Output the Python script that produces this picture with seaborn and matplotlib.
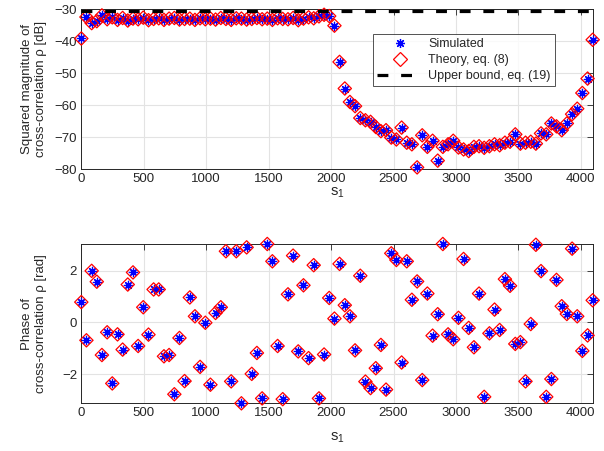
import numpy as np
import pandas as pd
import matplotlib
matplotlib.use("Agg")
import matplotlib.pyplot as plt
import seaborn as sns
from matplotlib.lines import Line2D

sns.set_style("white")
plt.rcParams['font.family'] = ['Liberation Sans', 'DejaVu Sans']
plt.rcParams['mathtext.fontset'] = 'custom'
plt.rcParams['mathtext.rm'] = 'Liberation Sans'
plt.rcParams['mathtext.it'] = 'Liberation Sans'

# ---------------- data ----------------
s1 = [0, 41, 83, 124, 165, 207, 248, 290, 331, 372, 414, 455, 496, 538, 579, 620, 662, 703, 745, 786,
      827, 869, 910, 951, 993, 1034, 1075, 1117, 1158, 1200, 1241, 1282, 1324, 1365, 1406, 1448, 1489, 1530, 1572, 1613,
      1655, 1696, 1737, 1779, 1820, 1861, 1903, 1944, 1985, 2027, 2068, 2110, 2151, 2192, 2234, 2275, 2316, 2358, 2399, 2440,
      2482, 2523, 2565, 2606, 2647, 2689, 2730, 2771, 2813, 2854, 2895, 2937, 2978, 3020, 3061, 3102, 3144, 3185, 3226, 3268,
      3309, 3350, 3392, 3433, 3475, 3516, 3557, 3599, 3640, 3681, 3723, 3764, 3805, 3847, 3888, 3930, 3971, 4012, 4054, 4095]

mag_db = [-39.2, -32.5, -34.4, -33.8, -32.0, -33.2, -32.6, -33.4, -32.8, -33.6,
          -33.0, -33.2, -32.7, -33.5, -33.1, -32.9, -33.4, -33.0, -32.8, -33.3,
          -33.1, -33.0, -33.4, -32.9, -33.2, -33.0, -33.3, -32.8, -33.1, -33.4,
          -32.9, -33.0, -33.3, -33.1, -32.8, -33.2, -33.0, -33.4, -32.9, -33.1,
          -33.2, -32.8, -33.5, -33.0, -32.6, -32.9, -32.3, -31.8, -32.2, -35.2,
          -46.5, -54.8, -59.0, -60.3, -64.0, -64.7, -65.2, -66.8, -68.1, -67.8,
          -70.1, -70.7, -67.0, -71.7, -72.2, -79.4, -69.4, -73.0, -71.1, -77.3,
          -73.0, -72.2, -71.1, -73.2, -73.8, -74.3, -73.0, -72.8, -73.3, -72.8,
          -72.2, -72.5, -71.7, -71.4, -69.1, -72.0, -71.7, -71.4, -72.0, -68.8,
          -69.1, -65.7, -66.6, -67.8, -65.7, -62.8, -61.1, -56.2, -51.7, -39.6]

phase_rad = [0.79, -0.69, 2.00, 1.58, -1.26, -0.38, -2.36, -0.46, -1.05, 1.47,
             1.94, -0.91, 0.59, -0.47, 1.28, 1.28, -1.31, -1.26, -2.78, -0.60,
             -2.27, 0.97, 0.24, -1.72, -0.01, -2.41, 0.37, 0.59, 2.76, -2.28,
             2.76, -3.13, 2.91, -1.99, -1.18, -2.94, 3.04, 2.37, -0.91, -2.97,
             1.09, 2.59, -1.12, 1.44, -1.38, 2.22, -2.94, -1.24, 0.95, 0.15,
             2.27, 0.67, 0.24, -1.08, 1.81, -2.29, -2.54, -1.77, -0.87, -2.60,
             2.68, 2.42, -1.55, 2.37, 0.88, 1.59, -2.23, 1.12, -0.51, 0.32,
             3.04, -0.46, -0.65, 0.18, 2.46, -0.21, -0.96, 1.12, -2.88, -0.42,
             0.50, -0.29, 1.68, 1.42, -0.83, -0.76, -2.28, -0.06, 3.01, 1.99,
             -2.88, -2.19, 1.65, 0.63, 0.33, 2.86, 0.24, -1.10, -0.50, 0.86]

upper_bound_db = -30.7
x_ticks = [0, 500, 1000, 1500, 2000, 2500, 3000, 3500, 4000]
top_yticks = [-80, -70, -60, -50, -40, -30]
bot_yticks = [-2, 0, 2]
labels = ["Simulated", "Theory, eq. (8)", "Upper bound, eq. (19)"]

df = pd.DataFrame({"s1": s1, "mag": mag_db, "phase": phase_rad})

# ---------------- figure ----------------
W, H = 604, 451
fig = plt.figure(figsize=(W / 100, H / 100), dpi=100)
left = 81.3 / W
width = 511.4 / W
ax1 = fig.add_axes([left, 1 - 169.3 / H, width, 160.3 / H])
ax2 = fig.add_axes([left, 1 - 403.3 / H, width, 159.3 / H])

edge = '#262626'
gridc = '#e3e3e3'
ast = (8, 2, 0)
dash = (0, (3.4, 4.0))

for ax, col in ((ax1, "mag"), (ax2, "phase")):
    sns.scatterplot(data=df, x="s1", y=col, marker=ast, color='blue', s=36,
                    linewidth=0.9, ax=ax, zorder=3, legend=False, clip_on=False)
    sns.scatterplot(data=df, x="s1", y=col, marker='D', s=46, color='red',
                    facecolors='none', edgecolor='red', linewidth=0.9, ax=ax,
                    zorder=4, legend=False, clip_on=False)

sns.lineplot(x=[s1[0], s1[-1]], y=[upper_bound_db, upper_bound_db], ax=ax1,
             color='black', linewidth=2.3, linestyle=dash, zorder=5)

ax1.set_ylim(-80, -30)
ax1.set_yticks(top_yticks)
ax2.set_ylim(min(phase_rad), max(phase_rad))
ax2.set_yticks(bot_yticks)

for ax in (ax1, ax2):
    ax.set_xlim(s1[0], s1[-1])
    ax.set_xticks(x_ticks)
    ax.grid(True, color=gridc, linewidth=0.8)
    ax.set_axisbelow(True)
    for sp in ax.spines.values():
        sp.set_color(edge)
        sp.set_linewidth(0.7)
    ax.tick_params(direction='in', length=4, width=0.6, colors=edge,
                   labelsize=9.5, top=True, right=True, pad=3)

ax1.set_xlabel(r"$\mathregular{s_1}$", fontsize=10.5, color=edge, labelpad=0)
ax2.set_xlabel(r"$\mathregular{s_1}$", fontsize=10.5, color=edge, labelpad=8)

ax1.set_ylabel("Squared magnitude of\ncross-correlation \u03c1 [dB]", fontsize=9.5,
               color=edge)
ax2.set_ylabel("Phase of\ncross-correlation \u03c1 [rad]", fontsize=9.5,
               color=edge)
for ax in (ax1, ax2):
    ax.yaxis.set_label_coords(-0.068, 0.5)

handles = [
    Line2D([], [], linestyle='none', marker=ast, color='blue', markersize=6.5, markeredgewidth=0.9),
    Line2D([], [], linestyle='none', marker='D', markerfacecolor='none', markeredgecolor='red',
           markersize=7, markeredgewidth=0.9),
    Line2D([], [], color='black', linewidth=2.3, linestyle=dash),
]
leg = ax1.legend(handles, labels, loc='upper left', bbox_to_anchor=(0.570, 0.846),
                 fontsize=9, frameon=True, fancybox=False, borderaxespad=0,
                 handlelength=3.6, handletextpad=0.5, borderpad=0.35, labelspacing=0.32)
leg.get_frame().set_edgecolor(edge)
leg.get_frame().set_linewidth(0.7)
for t in leg.get_texts():
    t.set_color(edge)

fig.savefig("out.png", dpi=100)
